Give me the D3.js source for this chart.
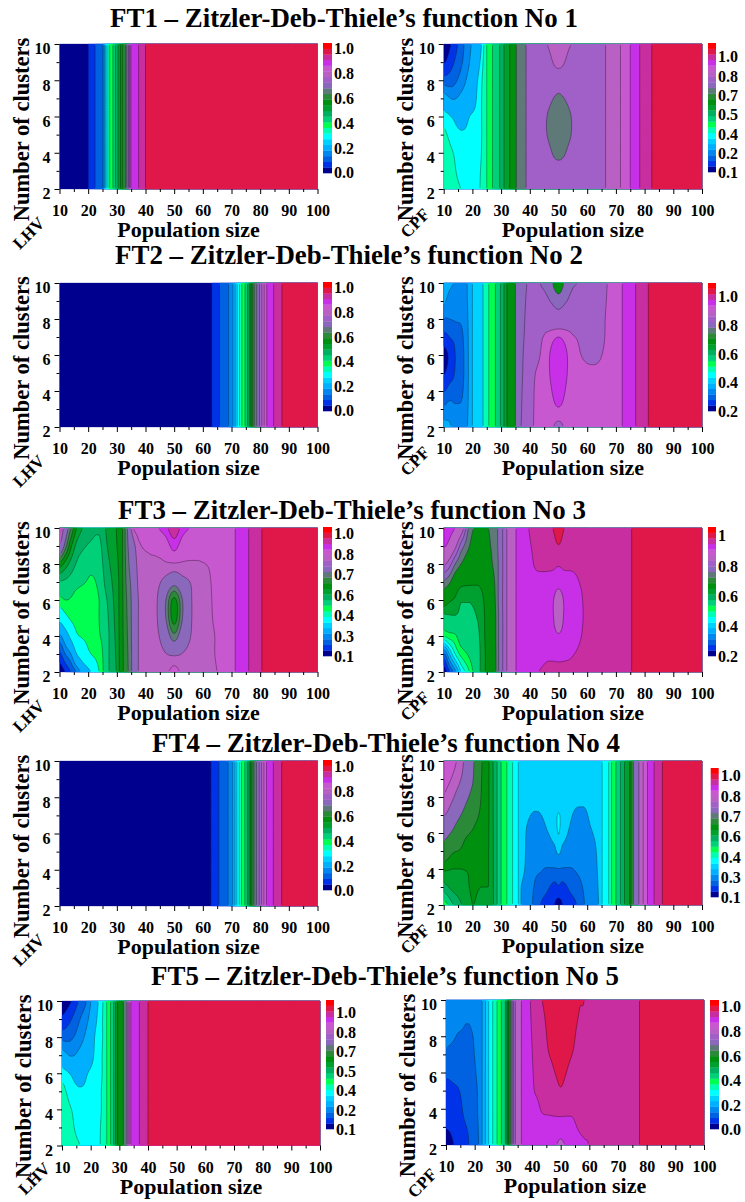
<!DOCTYPE html>
<html>
<head>
<meta charset="utf-8">
<script src="https://cdn.jsdelivr.net/npm/d3@7"></script>
<style>
  body { margin: 0; background: #fff; }
  text { font-family: "Liberation Serif", serif; font-weight: bold; fill: #000; }
</style>
</head>
<body>
<div id="chart"></div>
<script>
// Values are read off the picture as legend levels: a value in [k, k+1) falls in colour band k.
// Each *Z list has one entry per x in the matching *X list. A plain number means the
// column is flat, an array gives the level at clusters = 2,3,...,10.
const populationTicks = [10, 20, 30, 40, 50, 60, 70, 80, 90, 100];
const populationMinor = [15, 25, 35, 45, 55, 65, 75, 85, 95];
const clusterTicks = [2, 4, 6, 8, 10];
const clusterMinor = [3, 5, 7, 9];
const clusterRows = [2, 3, 4, 5, 6, 7, 8, 9, 10];

const bandColors = ["#00008f", "#0033e8", "#0062e0", "#0088f0", "#00b0ff", "#00d2ff", "#00ffff", "#00ffb4",
    "#00ff50", "#00d078", "#00b060", "#00a030", "#009010", "#2a8a38", "#5f7878", "#8a68bc",
    "#a060c8", "#b860c4", "#c858d0", "#c830e8", "#c82ea0", "#e0184a", "#ff0000"];

const ft1LhvX = [10, 20, 22.4, 25.1, 26.3, 27.5, 29.5, 33, 34, 34.9, 37.6, 40, 100];
const ft1LhvZ = [0.5, 1, 2, 3, 6, 8, 10, 14, 16, 19, 20, 21, 21.5];

const ft1CpfX = [10, 13, 16, 19, 22, 25, 27, 29.5, 31, 33, 35.3, 38.7, 42, 46, 50, 54.4, 58, 66.4, 71.6, 75, 78.3, 82.5, 100];
const ft1CpfZ = [
    [7.6, 7.5, 7.4, 7.2, 6.5, 4.6, 2.4, 0.9, 0.2],
    [7.3, 7.2, 7.05, 6.6, 5.9, 3.9, 2.6, 1.8, 1.2],
    [7.0, 6.7, 6.5, 6.2, 5.2, 4.3, 3.4, 2.8, 2.5],
    [6.4, 6.3, 6.2, 6.2, 6.0, 5.0, 4.5, 4.0, 3.8],
    [6.8, 6.7, 6.5, 6.4, 6.4, 6.3, 6.1, 5.5, 4.8],
    8, 9, 10, 11, 12, 14, 16, 16.5,
    [16.5, 16.4, 16.3, 16.0, 16.0, 16.3, 16.5, 16.6, 17.0],
    [16.6, 16.4, 15.7, 15.2, 15.2, 15.85, 16.4, 17.3, 17.8],
    [16.5, 16.4, 16.3, 16.0, 16.0, 16.3, 16.5, 16.6, 17.0],
    16.6, 17, 18, 19, 20, 21, 21.5
];

const ft2LhvX = [10, 63.1, 65.8, 69, 70.5, 72, 73.6, 75.6, 77.9, 78.8, 80.6, 82.3, 84.7, 87.6, 100];
const ft2LhvZ = [0.5, 1, 2, 3, 4, 6, 8, 10, 14, 15, 17, 19, 20, 21, 21.5];

const ft2CpfX = [10, 12, 14, 17, 20, 23.7, 25.7, 28, 31, 35, 37, 39, 41.5, 45, 47, 50, 53, 55, 62.3, 67, 72.2, 76.9, 81.3, 100];
const ft2CpfZ = [
    [4.5, 3.2, 1.9, 0.9, 0.6, 1.6, 2.9, 4.2, 4.9],
    [4.2, 3.5, 2.4, 1.5, 1.2, 2.0, 3.0, 3.6, 4.3],
    [3.6, 3.2, 2.5, 2.1, 2.0, 2.3, 3.1, 3.5, 3.9],
    [3.5, 3.3, 3.1, 3.0, 3.0, 3.1, 3.3, 3.5, 3.6],
    5, 7, 8, 9, 11, 15,
    [16, 15.95, 15.9, 15.85, 15.8, 15.7, 15.6, 15.55, 15.5],
    [16.6, 16.55, 16.5, 16.45, 16.4, 16.3, 16.2, 16.1, 16.0],
    [18.1, 18.05, 18, 17.9, 17.5, 17, 16.5, 16.3, 16.2],
    [18.4, 18.3, 18.3, 18.3, 18.3, 18.1, 16.9, 16.3, 15.8],
    [18.4, 18.5, 18.8, 19.02, 19.02, 18.5, 16.9, 16, 15.4],
    [17.5, 18.9, 19.6, 19.9, 19.9, 19, 16.7, 15.5, 14.2],
    [18.4, 18.5, 18.8, 19.02, 19.02, 18.5, 17, 16, 15.6],
    [18.3, 18.3, 18.3, 18.3, 18.3, 18.1, 16.9, 16.3, 15.9],
    [18.5, 18.4, 18.3, 18.2, 17.7, 17.2, 16.8, 16.6, 16.5],
    [18.6, 18.5, 18.5, 18.4, 18.3, 18.2, 18.2, 18.1, 18],
    19, 20, 21, 21.5
];

const ft3LhvX = [10, 12, 14, 16, 18, 21, 23.8, 26, 29.8, 31.4, 33.7, 35.8, 37.5, 41, 44, 47, 50, 53, 56, 59, 65, 71.3, 76, 80.6, 100];
const ft3LhvZ = [
    [0.2, 1.7, 3.7, 6.5, 8.7, 9.9, 12.7, 16.8, 18.6],
    [1, 3, 5, 7.5, 9, 9.8, 11.6, 14.5, 16.2],
    [2, 4, 6.5, 8.2, 8.9, 9.6, 10.6, 12.2, 14],
    [3, 6, 7.8, 8.4, 8.6, 9.3, 9.9, 10.7, 12],
    [4.5, 7, 8.1, 8.4, 8.5, 9.1, 9.5, 10.2, 11],
    [6, 8, 8.3, 8.5, 8.6, 8.9, 9.2, 9.8, 10.5],
    [8, 8.5, 8.9, 9, 9, 9.2, 9.4, 9.7, 10.2],
    [9.5, 9.5, 9.5, 9.6, 9.8, 10.2, 10.5, 10.8, 11],
    [11, 11.1, 11.2, 11.3, 11.4, 11.5, 11.7, 11.9, 12],
    12.5,
    [13.8, 13.9, 14, 14.1, 14.2, 14.4, 14.6, 14.8, 15],
    [15.5, 15.5, 15.5, 15.5, 15.5, 15.6, 16, 16.5, 18],
    [17, 17, 17, 17, 17, 17.2, 17.4, 17.8, 18.4],
    [17.4, 17.4, 17.4, 17.4, 17.4, 17.5, 17.7, 18.2, 18.6],
    [17.5, 17.4, 17.2, 17.05, 17.05, 17.3, 17.8, 18.3, 18.9],
    [17.6, 17.05, 16.1, 15.1, 15.1, 16.5, 17.9, 18.4, 19.6],
    [18.6, 16.8, 14.3, 12.5, 12.7, 15.6, 17.9, 19.4, 20.9],
    [17.6, 17.05, 16.1, 15.1, 15.1, 16.5, 17.9, 18.4, 19.5],
    [17.5, 17.3, 17.05, 16.95, 16.95, 17.1, 17.9, 18.3, 18.9],
    [17.5, 17.5, 17.5, 17.5, 17.6, 17.7, 17.95, 18.3, 18.6],
    [18, 18.1, 18.1, 18.2, 18.2, 18.2, 18.2, 18.3, 18.3],
    19, 20, 21, 21.5
];

const ft3CpfX = [10, 12, 14, 16, 19, 22, 24.5, 27, 29, 32, 35.2, 39.6, 42.6, 46, 48, 50, 52, 54.8, 58, 60, 75.5, 100];
const ft3CpfZ = [
    [0.2, 2.6, 8, 10.5, 12.8, 14.8, 17.2, 19.2, 20.1],
    [1.8, 5, 8.5, 10.7, 12.2, 14.2, 16.4, 18.5, 19.6],
    [3.5, 7, 8.8, 10.8, 11.8, 13, 15, 17.3, 19],
    [6, 8.3, 9.8, 10.7, 11.1, 12.4, 14, 15.6, 18],
    [8, 9.3, 10.2, 10.6, 11.1, 12.2, 13, 14, 14.6],
    [10.5, 10.6, 10.8, 11.1, 11.5, 12.1, 12.5, 13, 13.8],
    [12, 12, 12.1, 12.1, 12.2, 12.4, 12.7, 13.1, 13.6],
    [12.8, 12.9, 13, 13, 13.2, 13.5, 14, 14.3, 14.6],
    [14.9, 14.9, 14.9, 14.9, 15, 15, 15, 15.1, 15.1],
    17, 19,
    [19.4, 19.4, 19.4, 19.4, 19.4, 19.4, 19.5, 19.8, 20],
    [19.95, 19.5, 19.4, 19.4, 19.4, 19.5, 20.3, 20.4, 20.5],
    [20.3, 19.8, 19.5, 19.4, 19.4, 19.7, 20.2, 20.5, 20.9],
    [20.3, 19.8, 19.3, 19.1, 19.1, 19.6, 20.2, 20.6, 21],
    [20.4, 19.7, 19.1, 18.4, 18.4, 19.4, 20.1, 20.95, 21.6],
    [20.3, 19.8, 19.3, 19.1, 19.1, 19.6, 20.2, 20.6, 21],
    [20.2, 19.95, 19.5, 19.4, 19.4, 19.7, 20.2, 20.5, 20.9],
    [20.3, 20.2, 20, 19.85, 19.9, 20.1, 20.3, 20.4, 20.4],
    20.4, 21, 21.5
];

const ft4LhvX = [10, 62.8, 65.6, 68.8, 70.4, 71.9, 73.5, 75.5, 77.8, 78.7, 80.5, 82.2, 84.6, 87.5, 100];
const ft4LhvZ = [0.5, 1, 2, 3, 4, 6, 8, 10, 14, 15, 17, 19, 20, 21, 21.5];

const ft4CpfX = [10, 13, 16, 20, 23, 26, 28.6, 30, 32, 34, 36, 37, 41.4, 44, 46, 48.6, 50, 51.4, 54, 56, 58.8, 61, 64, 65.2, 67.5, 68.5, 70, 71.6, 73, 74.8, 76.6, 78, 81, 83.3, 86.2, 100];
const ft4CpfZ = [
    [8.3, 10.6, 12.2, 14.2, 15.6, 17.1, 17.9, 18.4, 18.9],
    [9.8, 11.3, 12, 13.2, 14.8, 16.2, 17.2, 17.9, 18.4],
    [10.9, 11.6, 12, 12.9, 13.5, 15, 16, 17, 17.4],
    [12, 12.1, 12.1, 12.4, 12.9, 13.6, 14.5, 15.2, 15.4],
    [11.6, 12, 12.2, 12.3, 12.5, 12.8, 13, 13.1, 13.2],
    11.9, 10, 9, 8, 7, 6,
    [4.9, 5, 5.5, 5.5, 5.5, 5.5, 5.5, 5.5, 5.6],
    [2.8, 3, 3.5, 4, 4.2, 4.9, 5.3, 5.6, 5.7],
    [1.9, 2.5, 3.1, 3.9, 4.4, 5, 5.3, 5.6, 5.7],
    [1.5, 2.2, 2.9, 4.2, 4.9, 5.4, 5.6, 5.7, 5.8],
    [1, 1.7, 2.9, 4.6, 5.5, 5.8, 5.7, 5.7, 5.8],
    [0.4, 1.9, 2.95, 5.4, 6.02, 6.03, 5.7, 5.7, 5.8],
    [1, 1.7, 2.9, 4.6, 5.5, 5.8, 5.7, 5.7, 5.8],
    [1.5, 2.2, 2.9, 4.2, 4.8, 5.2, 5.5, 5.7, 5.8],
    [1.9, 2.5, 3.1, 3.8, 4.2, 4.8, 5.3, 5.6, 5.7],
    [2.9, 3.1, 3.4, 3.7, 4, 4.7, 5.3, 5.5, 5.6],
    [3.6, 3.7, 3.9, 4.2, 4.8, 5.2, 5.4, 5.5, 5.6],
    [5, 5.1, 5.2, 5.3, 5.4, 5.5, 5.5, 5.5, 5.5],
    6, 7, 8, 9, 10, 11, 12, 16, 17, 19, 20, 21, 21.5
];

const ft5LhvX = [10, 13, 16, 19, 22, 24, 25.6, 28, 30.2, 31.4, 32.6, 34, 37, 40, 100];
const ft5LhvZ = [
    [7.6, 7.5, 7.4, 7.3, 6.5, 4.6, 2.6, 1.2, 0.3],
    [7.3, 7.2, 7.05, 6.6, 5.9, 3.9, 2.8, 1.9, 0.9],
    [7.05, 6.7, 6.5, 6.2, 5.2, 4.3, 3.5, 2.9, 2.1],
    [6.4, 6.3, 6.2, 6.2, 6, 5, 4.5, 3.9, 3.2],
    [6.7, 6.6, 6.5, 6.5, 6.5, 6.4, 6.3, 5.9, 5.5],
    [7.2, 7.2, 7.1, 7.1, 7, 7, 6.9, 6.9, 6.8],
    8, 10, 13, 14, 16, 19, 20, 21, 21.5
];

const ft5CpfX = [10, 12.7, 14.4, 16.7, 18, 21.4, 22.6, 24.9, 26.3, 27.8, 29.3, 30.7, 32, 34.2, 36.3, 39.4, 41, 43.5, 46, 48, 50, 52, 54, 56.5, 58.5, 60, 77.5, 100];
const ft5CpfZ = [
    [0.4, 1.05, 1.3, 1.6, 2.2, 2.8, 3.3, 3.6, 3.8],
    [1, 1.2, 1.4, 1.8, 2.3, 2.7, 3.1, 3.5, 3.7],
    [1.2, 1.4, 1.6, 1.95, 2.4, 2.6, 2.9, 3.4, 3.6],
    [1.6, 1.9, 2.3, 2.4, 2.5, 2.6, 2.85, 3.1, 3.5],
    [2, 2.2, 2.4, 2.5, 2.6, 2.7, 2.8, 3.1, 3.4],
    [3, 3.05, 3.1, 3.1, 3.2, 3.3, 3.4, 3.6, 3.8],
    4, 6, 7, 8, 9, 10, 13, 17, 19,
    [19.2, 19.3, 19.4, 19.5, 19.6, 19.7, 19.8, 19.9, 20],
    [19.3, 19.4, 19.6, 20.05, 20.2, 20.3, 20.4, 20.5, 20.6],
    [19.3, 19.6, 20.1, 20.3, 20.4, 20.5, 20.6, 20.8, 21],
    [19.4, 19.7, 20.15, 20.4, 20.6, 21, 21.2, 21.3, 21.4],
    [19.2, 19.7, 20.2, 20.6, 21, 21.3, 21.4, 21.5, 21.6],
    [18.6, 19.7, 20.2, 20.9, 21.3, 21.5, 21.6, 21.7, 21.8],
    [19.2, 19.7, 20.2, 20.6, 21, 21.3, 21.4, 21.5, 21.6],
    [19.5, 19.8, 20.15, 20.4, 20.6, 21, 21.2, 21.3, 21.4],
    [19.7, 20.1, 20.3, 20.4, 20.5, 20.6, 20.75, 20.95, 21.05],
    [19.9, 20.2, 20.4, 20.5, 20.5, 20.6, 20.7, 20.85, 20.95],
    20.1, 21, 21.5
];

const titleTexts = ["FT1 – Zitzler-Deb-Thiele’s function No 1", "FT2 – Zitzler-Deb-Thiele’s function No 2",
    "FT3 – Zitzler-Deb-Thiele’s function No 3", "FT4 – Zitzler-Deb-Thiele’s function No 4",
    "FT5 – Zitzler-Deb-Thiele’s function No 5"];

// Where things go on the page
const titleSpots = [[344, 27], [349, 264], [352, 519], [386, 752], [385, 985]];
const panels = [
    { name: "LHV", xs: ft1LhvX, zs: ft1LhvZ, skip: [], labels: ["0.0", "0.2", "0.4", "0.6", "0.8", "1.0"], box: [59.5, 44, 317.5, 189], key: [323, 43, 332, 173], keyText: [173, 49], tag: [-31, 44] },
    { name: "CPF", xs: ft1CpfX, zs: ft1CpfZ, skip: [5, 13, 15], labels: ["0.1", "0.2", "0.4", "0.5", "0.7", "0.8", "1.0"], box: [443.7, 44, 702, 189], key: [708, 43, 716, 172], keyText: [173, 57], tag: [-29, 34] },
    { name: "LHV", xs: ft2LhvX, zs: ft2LhvZ, skip: [], labels: ["0.0", "0.2", "0.4", "0.6", "0.8", "1.0"], box: [59.5, 283, 317.5, 427], key: [323, 282, 332, 411], keyText: [411, 288], tag: [-31, 44] },
    { name: "CPF", xs: ft2CpfX, zs: ft2CpfZ, skip: [6, 13, 14, 17], labels: ["0.2", "0.4", "0.6", "0.8", "1.0"], box: [443.7, 283, 702, 427], key: [708, 283, 716, 411], keyText: [411.5, 297], tag: [-29, 34] },
    { name: "LHV", xs: ft3LhvX, zs: ft3LhvZ, skip: [5, 7, 16], labels: ["0.1", "0.3", "0.4", "0.6", "0.7", "0.8", "1.0"], box: [59.5, 528, 317.5, 672], key: [323, 527, 332, 656], keyText: [656.5, 534], tag: [-31, 44] },
    { name: "CPF", xs: ft3CpfX, zs: ft3CpfZ, skip: [10, 13, 18], labels: ["0.2", "0.4", "0.6", "0.8", "1"], box: [443.7, 528, 702, 672], key: [708, 527, 716, 656], keyText: [656.5, 536], tag: [-29, 34] },
    { name: "LHV", xs: ft4LhvX, zs: ft4LhvZ, skip: [], labels: ["0.0", "0.2", "0.4", "0.6", "0.8", "1.0"], box: [59.5, 761, 317.5, 906], key: [323, 760, 332, 890], keyText: [891, 767], tag: [-31, 44] },
    { name: "CPF", xs: ft4CpfX, zs: ft4CpfZ, skip: [4, 14, 16], labels: ["0.1", "0.3", "0.4", "0.6", "0.7", "0.8", "1.0"], box: [443.7, 761, 702, 905], key: [710.7, 768, 718.7, 897], keyText: [898, 776], tag: [-29, 34] },
    { name: "LHV", xs: ft5LhvX, zs: ft5LhvZ, skip: [5, 13, 15], labels: ["0.1", "0.2", "0.4", "0.5", "0.7", "0.8", "1.0"], box: [62, 1001, 320, 1145.5], key: [326, 1000, 334, 1129], keyText: [1130, 1013], tag: [-28, 33] },
    { name: "CPF", xs: ft5CpfX, zs: ft5CpfZ, skip: [18], labels: ["0.0", "0.2", "0.4", "0.6", "0.8", "1.0"], box: [446, 1000, 704, 1145], key: [710, 1000, 719, 1129], keyText: [1130, 1007], tag: [-24, 38] }
];

const svg = d3.select("#chart").append("svg")
    .attr("width", 745)
    .attr("height", 1202)
    .style("display", "block");

svg.selectAll("text.title")
    .data(titleTexts)
    .join("text")
    .attr("class", "title")
    .attr("x", (d, i) => titleSpots[i][0])
    .attr("y", (d, i) => titleSpots[i][1])
    .attr("text-anchor", "middle")
    .style("font-size", "26.9px")
    .text(d => d);

// Catmull-Rom through the read levels, only so the contour lines come out round
function spline(a, b, c, d, t) {
    return 0.5 * (2 * b + (c - a) * t + (2 * a - 5 * b + 4 * c - d) * t * t + (3 * b - a - 3 * c + d) * t * t * t);
}

function refine(list, steps, clampIt) {
    const out = [];
    for (let i = 0; i < list.length - 1; i++) {
        for (let s = 0; s < steps; s++) {
            const v = spline(list[Math.max(i - 1, 0)], list[i], list[i + 1], list[Math.min(i + 2, list.length - 1)], s / steps);
            out.push(clampIt ? Math.min(Math.max(v, Math.min(list[i], list[i + 1])), Math.max(list[i], list[i + 1])) : v);
        }
    }
    out.push(list[list.length - 1]);
    return out;
}

panels.forEach((p, idx) => {
    const [left, top, right, bottom] = p.box;
    const x = d3.scaleLinear().domain([10, 100]).range([left, right]);
    const y = d3.scaleLinear().domain([2, 10]).range([bottom, top]);

    // columns with their y detail first, then along x
    const fineCols = p.zs.map(c => refine(Array.isArray(c) ? c : clusterRows.map(() => c), 6, false));
    const fineRows = fineCols[0].map((_, j) => refine(fineCols.map(c => c[j]), 6, true));
    const fineXs = refine(p.xs, 6, false).map((_, i) => {
        const k = Math.min(Math.floor(i / 6), p.xs.length - 2);
        return p.xs[k] + (p.xs[k + 1] - p.xs[k]) * (i / 6 - k);
    });
    const fineYs = refine(clusterRows, 6, false);
    const nx = fineXs.length;
    const ny = fineYs.length;

    const px = d3.scaleLinear().domain(d3.range(nx)).range(fineXs.map(x)).clamp(true);
    const py = d3.scaleLinear().domain(d3.range(ny)).range(fineYs.map(y)).clamp(true);
    const path = d3.geoPath(d3.geoTransform({
        point(a, b) { this.stream.point(px(a - 0.5), py(b - 0.5)); }
    }));

    const levels = d3.range(0, bandColors.length).filter(k => !p.skip.includes(k));
    const bands = d3.contours()
        .size([nx, ny])
        .thresholds(levels)(fineRows.flat());

    const g = svg.append("g");

    g.selectAll("path.band")
        .data(bands)
        .join("path")
        .attr("class", "band")
        .attr("d", path)
        .attr("fill", d => bandColors[d.value])
        .attr("stroke", d => bandColors[d.value])
        .attr("stroke-width", 0.3);

    // contour lines, clipped a hair inside so they do not trace the frame
    const clip = "clip" + idx;
    svg.append("clipPath").attr("id", clip).append("rect")
        .attr("x", left + 1.2)
        .attr("y", top + 1.2)
        .attr("width", right - left - 2.4)
        .attr("height", bottom - top - 2.4);

    g.append("g")
        .attr("clip-path", `url(#${clip})`)
        .selectAll("path")
        .data(bands.slice(1))
        .join("path")
        .attr("d", path)
        .attr("fill", "none")
        .attr("stroke", "#000")
        .attr("stroke-opacity", 0.55)
        .attr("stroke-width", 0.6);

    // Axes
    const xAxis = svg.append("g")
        .attr("transform", `translate(0,${bottom})`)
        .call(d3.axisBottom(x).tickValues(populationTicks).tickSize(5).tickPadding(11).tickFormat(d3.format("d")));
    svg.append("g")
        .attr("transform", `translate(0,${bottom})`)
        .call(d3.axisBottom(x).tickValues(populationMinor).tickSize(3).tickFormat(""));
    const yAxis = svg.append("g")
        .attr("transform", `translate(${left},0)`)
        .call(d3.axisLeft(y).tickValues(clusterTicks).tickSize(5).tickPadding(4).tickFormat(d3.format("d")));
    svg.append("g")
        .attr("transform", `translate(${left},0)`)
        .call(d3.axisLeft(y).tickValues(clusterMinor).tickSize(3).tickFormat(""));

    svg.selectAll(".domain").remove();
    xAxis.selectAll("text").style("font-size", "16px");
    yAxis.selectAll("text").style("font-size", "16px").attr("dy", "0.62em");

    svg.append("text")
        .attr("x", (left + right) / 2)
        .attr("y", bottom + 48)
        .attr("text-anchor", "middle")
        .style("font-size", "22px")
        .text("Population size");

    svg.append("text")
        .attr("transform", `translate(${left - 31},${(top + bottom) / 2 + 13}) rotate(-90)`)
        .attr("text-anchor", "middle")
        .style("font-size", "22.5px")
        .text("Number of clusters");

    svg.append("text")
        .attr("transform", `translate(${left + p.tag[0]},${bottom + p.tag[1]}) rotate(-45)`)
        .attr("text-anchor", "middle")
        .attr("dy", "0.35em")
        .style("font-size", "17px")
        .text(p.name);

    // Colour key
    const keyBand = d3.scaleBand().domain(d3.range(bandColors.length)).range([p.key[3], p.key[1]]);
    svg.append("g").selectAll("rect")
        .data(bandColors)
        .join("rect")
        .attr("x", p.key[0])
        .attr("y", (d, i) => keyBand(i))
        .attr("width", p.key[2] - p.key[0])
        .attr("height", keyBand.bandwidth() + 0.3)
        .attr("fill", d => d);

    const keyText = d3.scalePoint().domain(p.labels).range(p.keyText);
    svg.append("g").selectAll("text")
        .data(p.labels)
        .join("text")
        .attr("x", p.key[2] + 2)
        .attr("y", d => keyText(d))
        .attr("dy", "0.34em")
        .style("font-size", "16px")
        .text(d => d);
});
</script>
</body>
</html>
